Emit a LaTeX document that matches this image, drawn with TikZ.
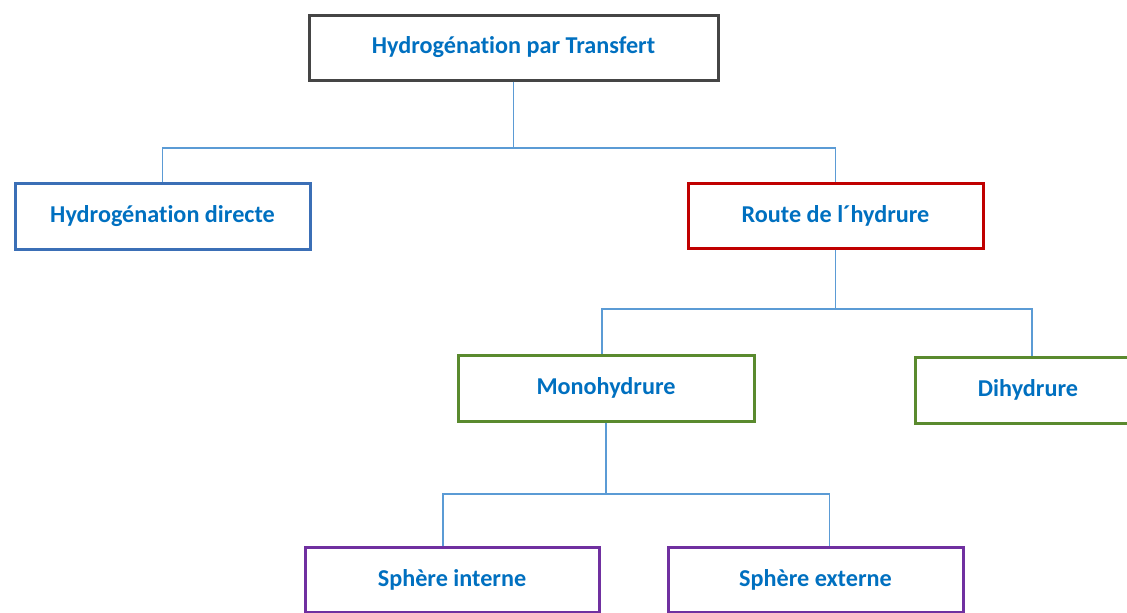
\documentclass[tikz,border=0pt]{standalone}
\usepackage{fontspec}
\setmainfont[Ligatures=NoCommon]{Carlito}
\usetikzlibrary{positioning, calc}

\definecolor{txtblue}{HTML}{0070C0}
\definecolor{linkblue}{HTML}{5B9BD5}
\definecolor{edgegray}{HTML}{454545}
\definecolor{edgeblue}{HTML}{3B6FB6}
\definecolor{edgered}{HTML}{C00000}
\definecolor{edgegreen}{HTML}{5A8A2E}
\definecolor{edgepurple}{HTML}{7030A0}

\begin{document}
\begin{tikzpicture}[
		x=1pt, y=-1pt,
		% --- ESTILOS ---
		block/.style = {draw, rectangle, fill=white, line width=3pt, minimum height=65pt, minimum width=295pt, align=center, text=txtblue, font=\fontsize{24.2}{29}\selectfont\bfseries},
		link/.style = {draw=linkblue, line width=1.2pt}
		]
		
		% --- MARCO ---
		\useasboundingbox[fill=white] (0,0) rectangle (1127,613);
		
		% --- NIVEL 1 ---
		\node [block, draw=edgegray, minimum width=409pt] (transfert) at (513.5,47.5) {Hydrogénation par Transfert};
		
		% --- NIVEL 2 ---
		\node [block, draw=edgeblue, minimum height=66pt] (directe) at (162.5,216) {Hydrogénation directe};
		\node [block, draw=edgered] (hydrure) at (835.5,215.5) {Route de l´hydrure};
		
		% --- NIVEL 3 ---
		\node [block, draw=edgegreen, minimum width=296pt, minimum height=66pt] (mono) at (606,388) {Monohydrure};
		\node [block, draw=edgegreen, minimum width=226pt, minimum height=66pt] (dihydrure) at (1028,390) {Dihydrure};
		
		% --- NIVEL 4 ---
		\node [block, draw=edgepurple, minimum width=294pt] (interne) at (452,579.5) {Sphère interne};
		\node [block, draw=edgepurple] (externe) at (815.5,579.5) {Sphère externe};
		
		% --- PUNTOS DE RAMIFICACIÓN ---
		\coordinate (split1) at (transfert.south |- 0,148);
		\coordinate (split2) at (hydrure.south |- 0,309);
		\coordinate (split3) at (mono.south |- 0,494);
		
		% --- CONEXIONES ---
		\draw [link] (transfert.south) -- (split1) -| (directe.north);
		\draw [link] (split1) -| (hydrure.north);
		
		\draw [link] (hydrure.south) -- (split2) -| ([xshift=-4pt]mono.north);
		\draw [link] (split2) -| ([xshift=4pt]dihydrure.north);
		
		\draw [link] (mono.south) -- (split3) -| ([xshift=-9pt]interne.north);
		\draw [link] (split3) -| ([xshift=14pt]externe.north);
		
	\end{tikzpicture}
\end{document}
